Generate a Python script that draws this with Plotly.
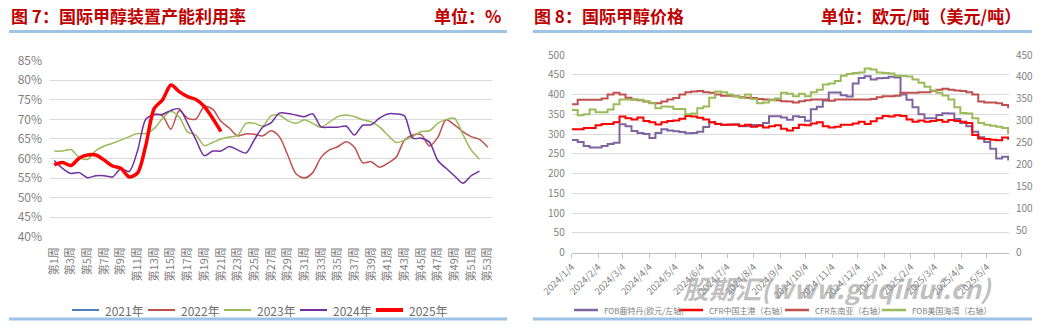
import plotly.graph_objects as go
import pandas as pd

W, H = 1049, 329
CJK = "Noto Sans CJK SC"
TITLE_RED = "#C00000"
RULE_BLUE = "#9DC3E6"
GRID = "#D9D9D9"
TICK_GRAY = "#7F7F7F"
LEGEND_GRAY = "#6E6E6E"

# ---------------- Figure 7: weekly utilisation of international methanol plants (%) ----------------
weeks = list(range(1, 54))
week_ticks = list(range(1, 54, 2))
week_tick_text = [f"第{n}周" for n in week_ticks]

util_2021 = [None] * 53
util_2022 = [None] * 12 + [
    71.4, 70.9, 67.5, 72.3, 70.3, 70.1, 73.3, 72.6, 69.5, 67.8,
    65.8, 66.3, 66.2, 65.8, 67.1, 65.6, 60.9, 56.1, 55.0, 56.4,
    60.3, 62.2, 63.0, 64.3, 62.9, 58.9, 59.2, 57.8, 58.8, 60.3,
    64.7, 66.0, 66.1, 63.2, 65.4, 69.9, 68.6, 66.9, 65.6, 64.9,
    62.9,
]
util_2023 = [
    61.9, 61.9, 62.3, 60.3, 59.8, 62.0, 63.2, 63.9, 64.7, 65.6,
    66.4, 66.4, 67.7, 70.3, 72.0, 70.6, 66.8, 66.0, 63.3, 64.1,
    65.0, 65.5, 65.9, 69.0, 69.0, 68.3, 70.9, 71.1, 69.7, 69.0,
    69.9, 69.0, 68.0, 69.3, 70.7, 71.1, 70.7, 69.9, 69.4, 68.1,
    66.0, 64.1, 64.7, 65.6, 66.9, 67.1, 69.0, 70.0, 70.3, 66.2,
    62.2, 59.8, None,
]
util_2024 = [
    59.5, 57.5, 56.2, 56.4, 55.1, 55.6, 55.6, 55.3, 57.4, 56.7,
    62.0, 70.1, 71.2, 71.3, 72.3, 72.7, 69.0, 64.8, 60.7, 61.9,
    61.9, 63.1, 62.2, 61.4, 64.8, 68.0, 69.1, 71.6, 71.5, 71.1,
    70.7, 71.4, 68.1, 68.0, 68.0, 68.3, 66.0, 68.5, 68.6, 70.3,
    71.4, 71.4, 70.9, 65.2, 65.2, 64.2, 59.5, 57.5, 55.6, 53.7,
    55.6, 56.8, None,
]
util_2025 = [
    58.4, 59.0, 58.2, 60.1, 60.9, 60.9, 59.6, 58.1, 57.5, 55.3,
    56.3, 63.5, 72.8, 75.0, 78.8, 77.1, 75.8, 75.1, 73.3, 70.3,
    66.9,
] + [None] * 32

# ---------------- Figure 8: international methanol prices (weekly, from 2024/1/4) ----------------
fob_rotterdam_eur = [  # left axis, EUR/t
    285, 280, 270, 266, 266, 270, 275, 278, 325, 320,
    308, 303, 300, 290, 303, 312, 309, 307, 305, 302,
    303, 306, 318, 330, 326, 323, 324, 325, 320, 320,
    323, 323, 328, 345, 345, 342, 336, 345, 343, 334,
    363, 369, 385, 405, 405, 398, 395, 428, 442, 446,
    438, 441, 442, 445, 443, 400, 387, 368, 350, 340,
    340, 348, 353, 352, 338, 328, 320, 306, 292, 280,
    263, 238, 243, 233,
]
cfr_china_usd = [  # right axis, USD/t
    281, 281, 284, 284, 290, 293, 293, 297, 310, 306,
    303, 308, 300, 297, 292, 297, 300, 301, 305, 311,
    310, 307, 303, 297, 293, 291, 291, 291, 289, 291,
    287, 289, 285, 288, 290, 282, 278, 284, 291, 290,
    294, 297, 288, 285, 287, 291, 291, 294, 298, 293,
    299, 306, 311, 310, 313, 311, 303, 298, 301, 298,
    300, 302, 298, 302, 300, 298, 295, 268, 260, 259,
    257, 256, 262, 257,
]
cfr_sea_usd = [  # right axis, USD/t
    338, 348, 348, 348, 348, 351, 360, 364, 360, 353,
    349, 347, 344, 341, 340, 344, 349, 352, 360, 365,
    367, 368, 365, 364, 360, 357, 357, 356, 354, 353,
    352, 350, 349, 348, 347, 345, 344, 342, 345, 347,
    349, 349, 349, 346, 349, 349, 349, 349, 349, 349,
    350, 354, 356, 356, 357, 364, 364, 364, 365, 365,
    368, 371, 373, 371, 369, 368, 365, 360, 344, 342,
    342, 340, 336, 329,
]
fob_usgulf_usd = [  # right axis, USD/t
    325, 313, 315, 326, 320, 320, 326, 338, 349, 349,
    349, 348, 344, 340, 329, 333, 332, 327, 327, 315,
    317, 329, 333, 353, 367, 365, 360, 356, 353, 360,
    350, 340, 342, 347, 351, 364, 362, 356, 362, 356,
    365, 371, 383, 385, 391, 403, 407, 409, 410, 419,
    417, 410, 409, 408, 403, 402, 401, 394, 387, 378,
    369, 364, 358, 349, 331, 318, 317, 306, 295, 291,
    289, 287, 284, 270,
]
price_dates = pd.date_range("2024-01-04", periods=len(fob_rotterdam_eur), freq="7D")
month_ticks = pd.date_range("2024-01-04", periods=17, freq=pd.DateOffset(months=1))
month_tick_text = [f"{d.year}/{d.month}/{d.day}" for d in month_ticks]


def px_x(x):
    return x / W


def px_y(y):
    return 1 - y / H


fig = go.Figure()

util_series = [
    ("2021年", util_2021, "#4F81BD", 1.5),
    ("2022年", util_2022, "#C0504D", 1.5),
    ("2023年", util_2023, "#9BBB59", 1.5),
    ("2024年", util_2024, "#7030A0", 1.5),
    ("2025年", util_2025, "#FF0000", 3.5),
]
for name, vals, color, width in util_series:
    fig.add_trace(go.Scatter(
        x=weeks, y=vals, name=name, mode="lines",
        line=dict(color=color, width=width, shape="spline", smoothing=0.8),
        xaxis="x", yaxis="y", connectgaps=False, showlegend=False, hoverinfo="skip",
    ))

price_series = [
    ("FOB鹿特丹(欧元/左轴)", fob_rotterdam_eur, "#8064A2", "y2"),
    ("CFR中国主港（右轴）", cfr_china_usd, "#FF0000", "y3"),
    ("CFR东南亚（右轴）", cfr_sea_usd, "#C0504D", "y3"),
    ("FOB美国海湾（右轴）", fob_usgulf_usd, "#9BBB59", "y3"),
]
for name, vals, color, yax in price_series:
    fig.add_trace(go.Scatter(
        x=price_dates, y=vals, name=name, mode="lines",
        line=dict(color=color, width=2, shape="hv"),
        xaxis="x2", yaxis=yax, showlegend=False, hoverinfo="skip",
    ))

fig.update_layout(
    width=W, height=H,
    margin=dict(l=0, r=0, t=0, b=0, autoexpand=False),
    paper_bgcolor="white", plot_bgcolor="white",
    font=dict(family=CJK, color=TICK_GRAY),
    showlegend=False,
    xaxis=dict(
        domain=[px_x(50), px_x(492)], anchor="y", automargin=False,
        range=[0.5, 53.5], tickmode="array", tickvals=week_ticks, ticktext=week_tick_text,
        tickangle=-90, showgrid=False, zeroline=False, showline=False, ticks="",
        tickfont=dict(family=CJK, size=11, color=TICK_GRAY), ticklabelstandoff=7,
    ),
    yaxis=dict(
        domain=[px_y(237), px_y(60.5)], anchor="x", automargin=False,
        range=[39.95, 85.05], tick0=40, dtick=5, ticksuffix="%",
        gridcolor=GRID, gridwidth=1.2, zeroline=False, showline=False, ticks="",
        tickfont=dict(family=CJK, size=12, color=TICK_GRAY), ticklabelstandoff=7,
    ),
    xaxis2=dict(
        domain=[px_x(571.7), px_x(1009)], anchor="y2", type="date", automargin=False,
        range=["2024-01-04", "2025-05-30"], tickmode="array",
        tickvals=list(month_ticks), ticktext=month_tick_text, tickangle=-45,
        showgrid=False, zeroline=False, showline=True, linecolor="#BFBFBF", linewidth=1,
        ticks="outside", ticklen=4, tickcolor="#BFBFBF",
        tickfont=dict(family=CJK, size=9.5, color=TICK_GRAY),
    ),
    yaxis2=dict(
        domain=[px_y(252.75), px_y(55)], anchor="x2", automargin=False,
        range=[0, 500], dtick=50, gridcolor=GRID, gridwidth=1.2,
        zeroline=False, showline=False, ticks="",
        tickfont=dict(family=CJK, size=10, color=TICK_GRAY), ticklabelstandoff=6,
    ),
    yaxis3=dict(
        overlaying="y2", side="right", anchor="x2", automargin=False,
        range=[0, 450], dtick=50, showgrid=False, zeroline=False, showline=False, ticks="",
        tickfont=dict(family=CJK, size=10, color=TICK_GRAY), ticklabelstandoff=6,
    ),
)

# legend rows drawn as short line samples with labels
legend_rows = [
    (util_series, [103, 179, 255, 331, 407], 27, 12, LEGEND_GRAY),
    ([(n, None, c, 2.5) for n, _, c, _ in price_series], [602, 707, 813, 910], 24, 8, TICK_GRAY),
]
for series, text_x, sample_len, fsize, fcolor in legend_rows:
    for (name, _, color, width), tx in zip(series, text_x):
        fig.add_shape(
            type="line", xref="paper", yref="paper",
            x0=px_x(tx - sample_len - 4), x1=px_x(tx - 4), y0=px_y(310), y1=px_y(310),
            line=dict(color=color, width=max(width, 2) if width < 3 else 4),
        )
        fig.add_annotation(
            text=name, x=px_x(tx), y=px_y(310), xref="paper", yref="paper",
            xanchor="left", yanchor="middle", showarrow=False,
            font=dict(family=CJK, size=fsize, color=fcolor),
        )

# panel titles
title_font = dict(family=CJK, size=17, color=TITLE_RED)
titles = [
    ("<b>图 7：国际甲醇装置产能利用率</b>", 9, "left"),
    ("<b>单位：%</b>", 503, "right"),
    ("<b>图 8：国际甲醇价格</b>", 532, "left"),
    ("<b>单位：欧元/吨（美元/吨）</b>", 1023, "right"),
]
for text, x, anchor in titles:
    fig.add_annotation(
        text=text, x=px_x(x), y=px_y(15), xref="paper", yref="paper",
        xanchor=anchor, yanchor="middle", showarrow=False, font=title_font,
    )

# blue rules under the titles and along the bottom of each panel
for x0, x1 in [(9, 507), (533, 1032)]:
    for y in (31.5, 319):
        fig.add_shape(
            type="line", xref="paper", yref="paper",
            x0=px_x(x0), x1=px_x(x1), y0=px_y(y), y1=px_y(y),
            line=dict(color=RULE_BLUE, width=3),
        )

# site watermark, kept just above the legend row
fig.add_annotation(
    text="<b><i>股期汇(www.guqihui.cn)</i></b>", x=px_x(837), y=px_y(287),
    xref="paper", yref="paper", xanchor="center", yanchor="middle", showarrow=False,
    font=dict(family=CJK, size=26, color="rgba(150,150,150,0.6)"),
)

fig.write_html("out.html", post_script="document.body.style.margin='0px';")
